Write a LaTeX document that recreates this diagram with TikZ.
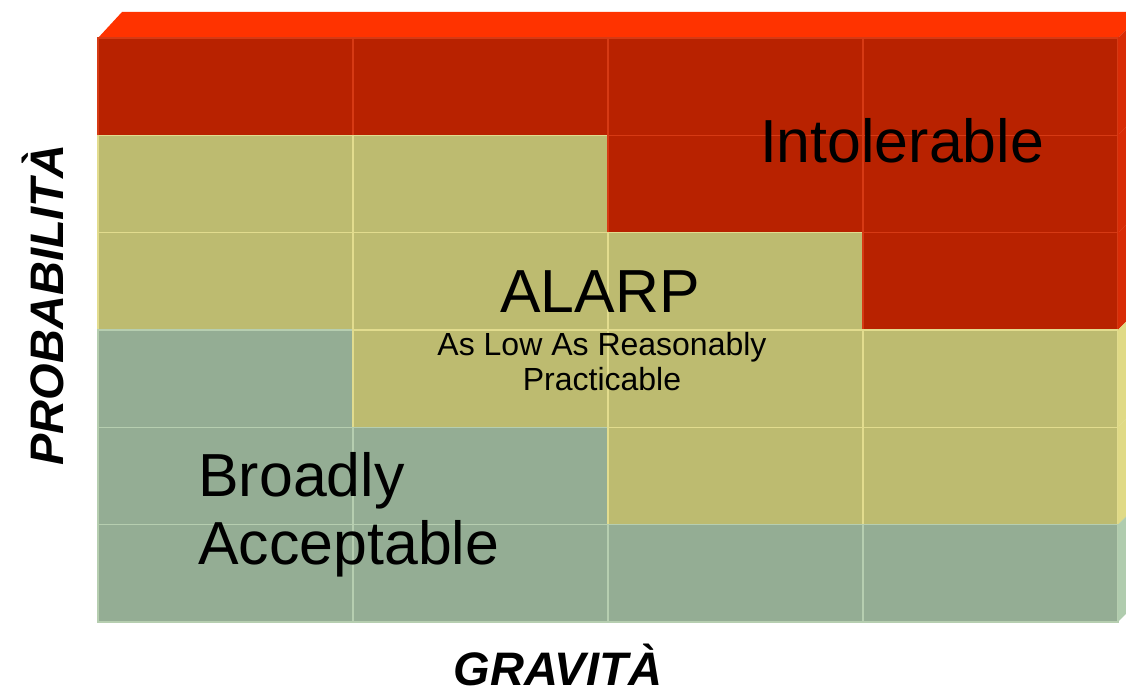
\documentclass[tikz,border=0pt]{standalone}
\usepackage{fontspec}
\setmainfont{Liberation Sans}
\definecolor{riskhi}{RGB}{184,34,0}
\definecolor{riskhiline}{RGB}{214,58,20}
\definecolor{riskhiside}{RGB}{216,44,6}
\definecolor{riskmid}{RGB}{189,187,112}
\definecolor{riskmidline}{RGB}{226,220,142}
\definecolor{riskmidside}{RGB}{224,218,134}
\definecolor{risklo}{RGB}{148,173,148}
\definecolor{riskloline}{RGB}{182,206,176}
\definecolor{risklosided}{RGB}{176,204,174}
\definecolor{risktop}{RGB}{255,51,0}
\begin{document}
\begin{tikzpicture}[x=0.5pt,y=-0.5pt]
        \tikzstyle{cellhi}=[fill=riskhi,draw=riskhiline,line width=0.8pt]
        \tikzstyle{cellmid}=[fill=riskmid,draw=riskmidline,line width=0.8pt]
        \tikzstyle{celllo}=[fill=risklo,draw=riskloline,line width=0.8pt]
        \tikzstyle{zone}=[font=\fontsize{30.4}{34}\selectfont,inner sep=0pt]
        \tikzstyle{axis}=[font=\fontsize{23.5}{28}\selectfont\bfseries\itshape,inner sep=0pt]
        \useasboundingbox (0,0) rectangle (1126,694);
       \begin{scope}
         % top face of the box
         \fill[risktop] (98,38) -- (122,12) -- (1126,12) -- (1126,30) -- (1118,38) -- cycle;
         % front cells, row by row from the top
         \foreach \k [count=\n from 0] in {hi,hi,hi,hi, mid,mid,hi,hi, mid,mid,mid,hi,
                                          lo,mid,mid,mid, lo,lo,mid,mid, lo,lo,lo,lo} {
           \pgfmathtruncatemacro\col{mod(\n,4)}
           \pgfmathtruncatemacro\row{div(\n,4)}
           \path[cell\k] (98+255*\col,38+97.33*\row) rectangle ++(255,97.33);
         }
         % right side face
         \foreach \s [count=\row from 0] in {riskhiside,riskhiside,riskhiside,riskmidside,riskmidside,risklosided}
           \fill[\s] (1118,38+97.33*\row) -- (1126,30+97.33*\row) -- (1126,30+97.33*\row+97.33) -- (1118,38+97.33*\row+97.33) -- cycle;
        \end{scope}
         \node[zone,anchor=base] (intol) at (902,163) {Intolerable};
         \node[zone,anchor=base] (alarp) at (600,313) {ALARP};
         \node[anchor=base,font=\fontsize{16}{17.5}\selectfont,inner sep=0pt,align=center] (alarpfull) at (602,391)
           {As Low As Reasonably\\Practicable};
         \node[zone,anchor=base west] (broad) at (198,497) {Broadly};
         \node[zone,anchor=base west] (accept) at (198,565) {Acceptable};
         \node[axis,rotate=90] (prob) at (43,305) {PROBABILITÀ};
         \node[axis,anchor=base] (grav) at (558,686) {GRAVITÀ};
      \end{tikzpicture}
\end{document}
